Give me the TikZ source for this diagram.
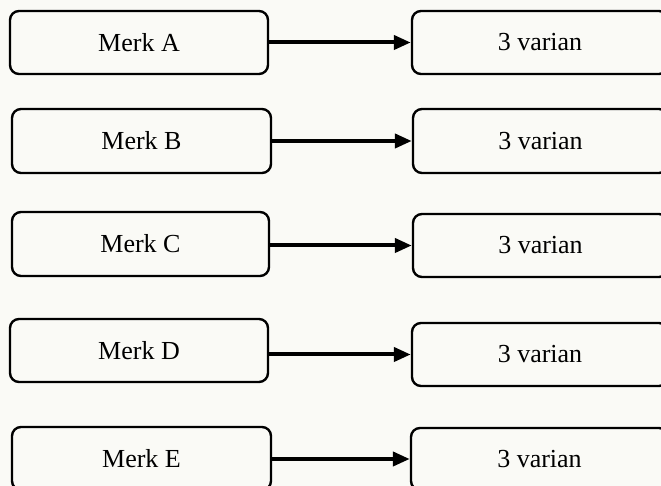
\documentclass[tikz,border=0pt]{standalone}
\usepackage{fontspec}
\setmainfont{Liberation Serif}
\usetikzlibrary{arrows.meta}
\definecolor{bgc}{RGB}{250,250,246}
\tikzset{
  box/.style={draw=black, line width=1.2pt, rounded corners=4.5pt, inner sep=0pt, font=\fontsize{13}{15}\selectfont},
  conn/.style={line width=2pt, -{Triangle[length=8.5pt,width=7pt]}}
}
\begin{document}
\begin{tikzpicture}[x=0.5pt,y=-0.5pt]
\path[use as bounding box, fill=bgc] (0,0) rectangle (661,486);
\clip (0,0) rectangle (661,486);
% left boxes
\node[box, minimum width=129pt, minimum height=31.5pt] (La) at (139,42.5) {Merk A};
\node[box, minimum width=129.5pt, minimum height=32pt] (Lb) at (141.5,141) {Merk B};
\node[box, minimum width=128.5pt, minimum height=32pt] (Lc) at (140.5,244) {Merk C};
\node[box, minimum width=129pt, minimum height=31.5pt] (Ld) at (139,350.5) {Merk D};
\node[box, minimum width=129.5pt, minimum height=31.5pt] (Le) at (141.5,458.5) {Merk E};
% right boxes
\node[box, minimum width=128pt, minimum height=31.5pt] (Ra) at (540,42.5) {3 varian};
\node[box, minimum width=127.5pt, minimum height=32pt] (Rb) at (540.5,141) {3 varian};
\node[box, minimum width=127.5pt, minimum height=31.5pt] (Rc) at (540.5,245.5) {3 varian};
\node[box, minimum width=128pt, minimum height=31.5pt] (Rd) at (540,354.5) {3 varian};
\node[box, minimum width=128.5pt, minimum height=31pt] (Re) at (539.5,459) {3 varian};
% connectors
\draw[conn] (La.east |- Ra.west) -- (Ra.west);
\draw[conn] (Lb.east |- Rb.west) -- (Rb.west);
\draw[conn] (Lc.east |- Rc.west) -- (Rc.west);
\draw[conn] (Ld.east |- Rd.west) -- (Rd.west);
\draw[conn] (Le.east |- Re.west) -- (Re.west);
\end{tikzpicture}
\end{document}
